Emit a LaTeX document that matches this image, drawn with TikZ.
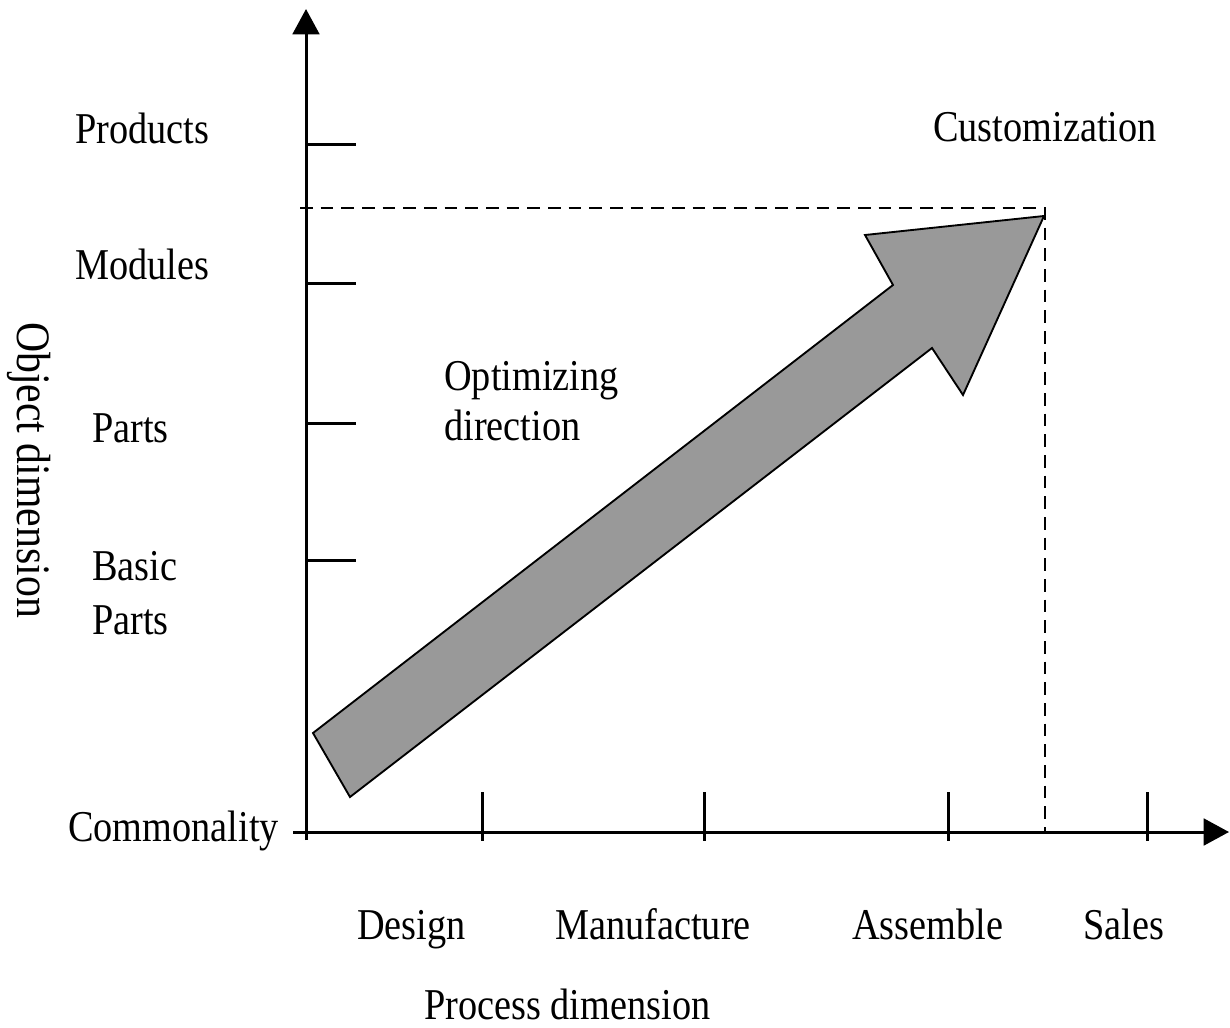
\documentclass[tikz,border=0pt]{standalone}
\usepackage{fontspec}
\setmainfont{Liberation Serif}[FakeStretch=0.87]
\usetikzlibrary{arrows.meta}
\definecolor{arrowgray}{gray}{0.6}
\begin{document}
\begin{tikzpicture}[x=0.75pt,y=-0.75pt,
  axis/.style={line width=2.25pt, -{Triangle[length=19pt,width=20pt]}},
  tickmark/.style={line width=2.25pt},
  guide/.style={line width=1.6pt, dash pattern=on 9.5pt off 6pt},
  bigarrow/.style={fill=arrowgray, draw=black, line width=1.4pt, line join=miter},
  lbl/.style={font=\fontsize{33}{40}\selectfont, inner sep=0pt, anchor=base west},
]
\useasboundingbox (0,0) rectangle (1230,1027);

% axes
\coordinate (ybot) at (306,840);
\coordinate (ytop) at (306,9);
\coordinate (xleft) at (293,832);
\coordinate (xright) at (1229,832);
\draw[axis] (ybot) -- (ytop);
\draw[axis] (xleft) -- (xright);

% ticks on the object axis
\foreach \yy/\nm in {145/tp,283/tm,423/tpa,560/tb}{
  \coordinate (\nm) at (306,\yy);
  \draw[tickmark] (\nm) -- ++(50,0);
}
% ticks on the process axis
\foreach \xx/\nm in {482/td,704/tmf,948/ta,1147/ts}{
  \coordinate (\nm) at (\xx,792);
  \draw[tickmark] (\nm) -- ++(0,49);
}

% dashed guide to the customization corner
\coordinate (gl) at (300,208);
\coordinate (gc) at (1045,208);
\coordinate (gb) at (1045,832);
\draw[guide] (gl) -- (gc) -- (gb);

% optimizing direction arrow
\draw[bigarrow] (313,733) -- (893,285) -- (865,235) -- (1044,216)
  -- (963,395) -- (932,348) -- (350,797) -- cycle;

% object levels
\node[lbl] (products) at (75,143) {Products};
\node[lbl] (modules) at (75,279) {Modules};
\node[lbl] (parts) at (92,442) {Parts};
\node[lbl] (basic1) at (92,580) {Basic};
\node[lbl] (basic2) at (92,634) {Parts};
\node[lbl] (common) at (68,841) {Commonality};
\node[lbl] (custom) at (933,142) {Customization};

% arrow caption
\node[lbl] (opt1) at (444,390) {Optimizing};
\node[lbl] (opt2) at (444,440) {direction};

% process stages
\node[lbl] (design) at (357,939) {Design};
\node[lbl] (manuf) at (555,939) {Manufacture};
\node[lbl] (assem) at (852,939) {Assemble};
\node[lbl] (sales) at (1083,939) {Sales};

% axis titles
\node[lbl] (ptitle) at (424,1019) {Process dimension};
\node[lbl, anchor=base, rotate=-90, font=\fontsize{36}{42}\selectfont] (otitle) at (17,470) {Object dimension};
\end{tikzpicture}
\end{document}
